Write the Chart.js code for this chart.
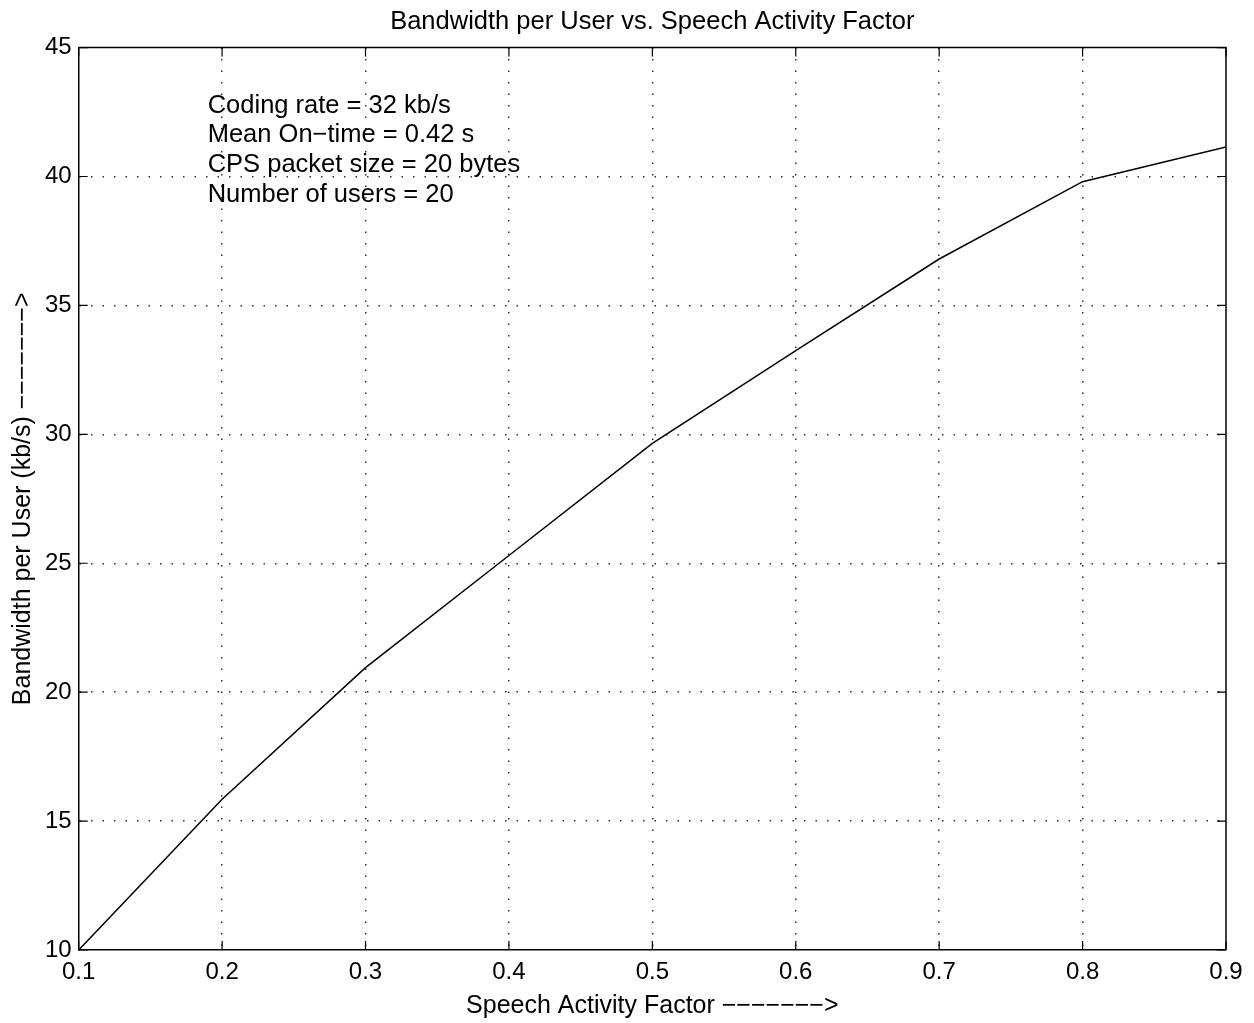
<!DOCTYPE html>
<html>
<head>
<meta charset="utf-8">
<script src="https://cdn.jsdelivr.net/npm/chart.js@4.4.0/dist/chart.umd.min.js"></script>
<style>
  html, body { margin: 0; padding: 0; background: #fff; }
  #wrap { width: 1254px; height: 1023px; position: relative; }
</style>
</head>
<body>
<div id="wrap"><canvas id="bwChart"></canvas></div>
<script>
// values
const activityFactor = [0.1, 0.2, 0.3, 0.4, 0.5, 0.6, 0.7, 0.8, 0.9];
const bandwidthPerUser = [10, 15.85, 20.95, 25.3, 29.65, 33.25, 36.8, 39.8, 41.15];
const noteLines = [
    'Coding rate = 32 kb/s',
    'Mean On\u2212time = 0.42 s',
    'CPS packet size = 20 bytes',
    'Number of users = 20'
];

const FONT = "'Liberation Sans', Arial, Helvetica, sans-serif";

// MATLAB-style box: top/right frame, inward ticks, text block
const boxPlugin = {
    id: 'matlabBox',
    afterDraw(chart) {
        const { ctx, chartArea: a, scales: { x, y } } = chart;
        const tick = 9;
        ctx.save();
        ctx.strokeStyle = '#000';
        ctx.lineWidth = 1.5;
        ctx.beginPath();
        ctx.moveTo(a.left, a.top);
        ctx.lineTo(a.right, a.top);
        ctx.lineTo(a.right, a.bottom);
        ctx.stroke();

        ctx.lineWidth = 1.2;
        ctx.beginPath();
        x.ticks.forEach(t => {
            const px = x.getPixelForValue(t.value);
            ctx.moveTo(px, a.bottom); ctx.lineTo(px, a.bottom - tick);
            ctx.moveTo(px, a.top); ctx.lineTo(px, a.top + tick);
        });
        y.ticks.forEach(t => {
            const py = y.getPixelForValue(t.value);
            ctx.moveTo(a.left, py); ctx.lineTo(a.left + tick, py);
            ctx.moveTo(a.right, py); ctx.lineTo(a.right - tick, py);
        });
        ctx.stroke();

        ctx.fillStyle = '#000';
        ctx.font = '25.5px ' + FONT;
        ctx.textBaseline = 'middle';
        ctx.textAlign = 'left';
        noteLines.forEach((s, i) => {
            ctx.fillText(s, a.left + 129, a.top + 58 + i * 29.7);
        });
        ctx.restore();
    }
};

const edgeless = (scale) => (c) => {
    const v = c.tick ? c.tick.value : null;
    if (v === scale.min || v === scale.max) return 'rgba(0,0,0,0)';
    return '#333';
};

new Chart(document.getElementById('bwChart').getContext('2d'), {
    type: 'line',
    data: {
        datasets: [{
            data: activityFactor.map((v, i) => ({ x: v, y: bandwidthPerUser[i] })),
            borderColor: '#000',
            borderWidth: 1.5,
            pointRadius: 0,
            tension: 0,
            fill: false
        }]
    },
    options: {
        responsive: true,
        maintainAspectRatio: false,
        animation: false,
        layout: { padding: { top: 2, right: 28, bottom: 2, left: 6 } },
        plugins: {
            legend: { display: false },
            tooltip: { enabled: false },
            title: {
                display: true,
                fullSize: false,
                text: 'Bandwidth per User vs. Speech Activity Factor',
                color: '#000',
                font: { family: FONT, size: 25.5, weight: 'normal' },
                padding: { top: 5, bottom: 10 }
            }
        },
        scales: {
            x: {
                type: 'linear',
                min: 0.1,
                max: 0.9,
                ticks: {
                    stepSize: 0.1,
                    color: '#000',
                    padding: 10,
                    font: { family: FONT, size: 24, lineHeight: 1 },
                    callback: v => v.toFixed(1)
                },
                grid: { color: edgeless({ min: 0.1, max: 0.9 }), lineWidth: 1.5, drawTicks: false },
                border: { display: true, color: '#000', width: 1.5, dash: [1.5, 10] },
                title: {
                    display: true,
                    text: 'Speech Activity Factor \u2212\u2212\u2212\u2212\u2212\u2212\u2212>',
                    color: '#000',
                    font: { family: FONT, size: 25, lineHeight: 1 },
                    padding: { top: 0, bottom: 2 }
                }
            },
            y: {
                min: 10,
                max: 45,
                ticks: {
                    stepSize: 5,
                    color: '#000',
                    padding: 7,
                    font: { family: FONT, size: 24 }
                },
                grid: { color: edgeless({ min: 10, max: 45 }), lineWidth: 1.5, drawTicks: false },
                border: { display: true, color: '#000', width: 1.5, dash: [1.5, 10] },
                title: {
                    display: true,
                    text: 'Bandwidth per User (kb/s) \u2212\u2212\u2212\u2212\u2212\u2212\u2212>',
                    color: '#000',
                    font: { family: FONT, size: 25, lineHeight: 1 },
                    padding: { top: 5, bottom: 2 }
                }
            }
        }
    },
    plugins: [boxPlugin]
});
</script>
</body>
</html>
